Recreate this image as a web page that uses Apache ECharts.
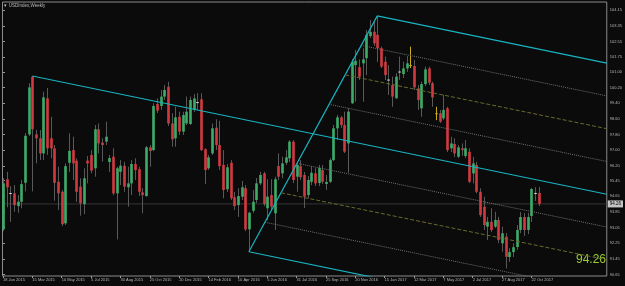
<!DOCTYPE html>
<html><head><meta charset="utf-8">
<script src="https://cdn.jsdelivr.net/npm/echarts@6/dist/echarts.min.js"></script>
<style>html,body{margin:0;padding:0;background:#0b0b0b;}#c{width:625px;height:286px;}</style>
</head><body><div id="c"></div>
<script>
// Weekly USDIndex, bar 0 = week of 18 Jan 2015
const opens = [92.96,95.52,94.82,94.80,94.15,94.37,95.34,97.81,100.76,97.81,97.61,96.84,99.65,97.61,97.10,95.39,94.88,93.27,96.36,97.01,
96.47,95.14,94.25,96.47,96.76,96.08,98.07,97.39,97.44,96.40,96.67,94.80,95.90,96.21,95.11,95.31,96.30,96.03,94.85,94.66,
97.15,97.01,99.36,99.26,99.74,100.24,98.37,97.61,98.71,97.95,98.37,98.34,99.06,99.45,99.60,97.05,96.08,96.84,98.15,97.27,
96.25,95.01,96.36,94.60,94.20,94.63,95.06,92.96,93.91,94.46,95.31,95.82,94.04,94.71,93.78,96.19,95.82,96.36,96.59,97.44,
95.65,96.19,95.74,94.71,95.39,95.82,95.33,95.99,95.28,95.39,96.50,98.12,98.68,98.29,97.35,99.40,101.35,101.24,101.44,101.70,
102.83,103.05,102.89,102.21,101.52,100.61,100.33,99.65,101.00,100.89,101.18,101.35,101.30,100.16,99.14,100.38,101.18,100.42,98.89,98.89,
98.63,99.14,97.10,97.32,96.67,97.10,96.71,96.92,95.82,96.25,94.88,94.12,93.10,93.35,93.10,93.44,92.25,92.59,91.55,91.80,
92.06,92.93,93.59,92.93,93.64,94.82,94.82];
const highs = [95.58,95.90,95.17,95.22,94.71,95.48,97.88,100.42,100.79,98.03,98.03,99.99,100.18,98.71,97.27,96.16,94.97,96.33,97.87,97.69,
96.59,95.57,96.08,96.71,97.01,98.29,98.37,97.61,98.46,96.76,97.10,96.16,96.50,96.41,96.16,96.50,96.59,96.16,95.06,97.22,
97.27,99.40,99.65,100.08,100.33,100.50,98.89,99.22,98.97,98.97,99.74,99.74,99.87,99.92,99.91,97.10,96.76,98.37,98.58,98.51,
97.01,96.30,96.50,94.87,95.06,95.43,95.22,93.86,94.97,95.58,95.90,95.90,95.52,95.52,95.65,96.84,96.67,97.01,97.52,97.52,
96.30,96.50,95.89,95.68,96.19,96.09,96.25,96.25,95.74,96.60,98.29,98.80,98.75,98.97,99.14,101.66,102.12,101.64,102.21,103.14,
103.65,103.56,103.86,102.29,101.78,101.35,100.76,100.94,101.78,101.52,101.81,102.29,101.61,100.33,100.50,101.27,101.27,100.50,99.22,99.06,
99.82,99.22,97.69,97.61,97.27,97.35,97.52,97.10,96.67,96.41,95.06,94.63,93.60,94.04,93.86,93.60,93.10,92.77,92.00,92.25,
93.18,93.85,93.80,93.80,95.07,95.12,95.12];
const lows = [92.87,94.09,93.35,93.86,93.81,94.04,94.90,97.73,94.90,96.33,96.50,96.50,96.76,96.59,94.42,93.95,93.13,93.18,95.90,95.48,
94.37,93.66,93.74,95.31,95.82,95.65,96.84,96.42,97.27,95.90,94.71,92.45,95.22,94.88,94.12,94.71,95.48,94.66,93.78,94.63,
96.16,96.96,98.90,99.06,99.57,98.24,97.18,97.18,97.78,97.78,98.29,98.29,98.95,99.06,96.96,95.28,95.99,96.76,97.01,95.99,
94.55,94.87,94.46,93.95,93.60,94.46,92.87,91.82,93.80,94.30,95.22,94.15,93.44,93.95,92.93,95.48,95.57,96.25,96.40,95.33,
94.88,95.48,94.05,94.56,95.22,95.17,95.17,95.28,94.97,95.33,96.45,97.52,98.14,96.86,95.85,99.36,99.48,100.59,99.48,100.84,
102.73,102.32,101.51,101.20,100.59,99.82,99.22,99.65,100.59,100.69,101.00,101.20,100.08,99.06,98.71,100.28,100.33,99.22,98.54,98.39,
98.54,96.91,96.91,96.65,96.60,96.71,96.60,95.33,95.31,94.80,93.59,92.93,92.42,92.82,93.03,92.26,91.82,90.97,91.30,91.55,
91.91,92.77,92.62,92.72,93.34,94.41,94.15];
const closes = [95.31,95.11,94.78,94.20,94.37,95.27,97.74,100.21,98.07,97.61,96.84,99.70,97.10,97.10,95.34,94.80,93.23,96.19,96.97,96.33,
94.88,94.29,95.57,96.33,95.96,98.07,97.35,97.27,97.69,96.60,94.80,96.08,96.21,95.14,95.31,96.30,95.99,94.88,94.71,97.15,
96.96,99.26,99.02,99.74,100.08,98.37,97.56,98.68,97.95,98.80,98.97,99.57,99.65,99.46,97.01,95.99,96.64,98.12,97.27,96.19,
94.97,96.13,94.55,94.15,94.66,95.11,92.96,93.81,94.37,95.31,95.74,94.25,94.63,94.12,95.52,95.65,96.33,96.64,97.44,95.48,
96.25,95.62,94.63,95.48,95.85,95.31,96.09,95.39,95.38,96.50,98.12,98.68,98.29,96.93,98.97,101.52,101.57,100.76,101.64,102.89,
103.05,102.46,102.21,101.27,100.84,100.57,99.74,100.76,101.02,101.18,101.44,101.35,100.21,99.57,100.38,101.13,100.45,99.70,98.89,98.46,
99.06,97.01,97.35,96.84,97.15,97.01,97.10,95.39,96.33,94.88,93.69,93.18,93.35,92.93,93.44,92.42,92.76,91.56,91.80,92.05,
92.93,93.59,92.93,93.59,95.02,94.80,94.26];

const dateTickLabels = ['18 Jan 2015','15 Mar 2015','10 May 2015','5 Jul 2015','30 Aug 2015','25 Oct 2015','20 Dec 2015',
'14 Feb 2016','10 Apr 2016','5 Jun 2016','31 Jul 2016','25 Sep 2016','20 Nov 2016','15 Jan 2017','12 Mar 2017',
'7 May 2017','2 Jul 2017','27 Aug 2017','22 Oct 2017'];
const barsPerDateTick = 8;
const priceTickLabels = ['104.15','103.35','102.55','101.75','101.00','100.20','99.40','98.60','97.80','97.00',
'96.20','95.45','94.65','93.85','93.05','92.25','91.45','90.65'];
// Andrews' pitchfork pivots: [bar of high, bar of high, bar of low]
const pitchforkBars = [8, 102, 67];
const dottedLevels = [0.125, 0.375, 0.625, 0.875];
const dashedLevels = [0.25, 0.75];
const titleText = '▼ USDIndex,Weekly';

const xMin = -0.136, xMax = 164.54, yMin = 90.58, yMax = 104.57;
const bull = '#3eaa68', bear = '#cf3a40', wick = '#595959';
const candles = closes.map((c, i) => [i, opens[i], c, lows[i], highs[i]]);
const dateTickVals = dateTickLabels.map((_, k) => k * barsPerDateTick);
const priceTickVals = priceTickLabels.map(Number);

const P1 = [pitchforkBars[0], highs[pitchforkBars[0]]];
const P2 = [pitchforkBars[1], highs[pitchforkBars[1]]];
const P3 = [pitchforkBars[2], lows[pitchforkBars[2]]];
const M = [(P2[0] + P3[0]) / 2, (P2[1] + P3[1]) / 2];
const slope = (M[1] - P1[1]) / (M[0] - P1[0]);
const ray = s => [s, [xMax, s[1] + slope * (xMax - s[0])]];
const onHandle = f => [P2[0] + f * (P3[0] - P2[0]), P2[1] + f * (P3[1] - P2[1])];
const cyan = '#18b4c2';
const lineSeries = (data, color, type, width) => ({
  type: 'line', data, symbol: 'none', silent: true, animation: false, clip: true, z: 5,
  lineStyle: { color, type, width }
});

const series = [];
const last = closes[closes.length - 1];
series.push({
  type: 'line', data: [[xMin, last], [xMax, last]], symbol: 'none', silent: true, animation: false, z: 1,
  lineStyle: { color: '#353535', width: 1 },
  endLabel: { show: true, formatter: () => last.toFixed(2), backgroundColor: '#c4c4c4', color: '#000',
    fontSize: 4.5, fontFamily: 'Liberation Sans', padding: [1, 2, 1, 2], distance: 1 }
});
series.push({
  type: 'custom', data: candles, clip: true, animation: false, z: 3,
  encode: { x: 0, y: [1, 2, 3, 4] },
  renderItem: function (params, api) {
    const i = api.value(0), o = api.value(1), c = api.value(2), l = api.value(3), h = api.value(4);
    const pO = api.coord([i, o]), pC = api.coord([i, c]), pL = api.coord([i, l]), pH = api.coord([i, h]);
    const w = api.size([1, 0])[0] * 0.72;
    const x = Math.round(pO[0]) + 0.5;
    let color = c > o ? bull : bear, wc = wick;
    if (Math.abs(c - o) < 0.005) { color = '#c8ad1a'; wc = '#c8ad1a'; }
    else if (Math.abs(c - o) < 0.05) { color = '#d8d8d8'; }
    const top = Math.min(pO[1], pC[1]), bot = Math.max(pO[1], pC[1]);
    return { type: 'group', children: [
      { type: 'line', shape: { x1: x, y1: pH[1], x2: x, y2: pL[1] }, style: { stroke: wc, lineWidth: 1 } },
      { type: 'rect', shape: { x: x - w / 2, y: top, width: w, height: Math.max(bot - top, 1) }, style: { fill: color } }
    ]};
  }
});
series.push(lineSeries([P3, P2], cyan, 'solid', 1.2));
series.push(lineSeries(ray(P1), cyan, 'solid', 1.2));
series.push(lineSeries(ray(P2), cyan, 'solid', 1.2));
series.push(lineSeries(ray(P3), cyan, 'solid', 1.2));
dottedLevels.forEach(f => series.push(lineSeries(ray(onHandle(f)), '#707070', 'dotted', 1)));
dashedLevels.forEach(f => series.push(lineSeries(ray(onHandle(f)), '#6a6a2c', 'dashed', 1)));

const chart = echarts.init(document.getElementById('c'), null, { renderer: 'canvas' });
chart.setOption({
  backgroundColor: '#0b0b0b',
  animation: false,
  grid: { left: 1, right: 18, top: 2, bottom: 10, show: true, borderColor: '#8c8c8c', borderWidth: 1 },
  xAxis: {
    type: 'value', min: xMin, max: xMax,
    axisLine: { show: false }, splitLine: { show: false },
    axisTick: { show: true, customValues: dateTickVals, length: 2, lineStyle: { color: '#9a9a9a' } },
    axisLabel: { customValues: dateTickVals, formatter: v => dateTickLabels[Math.round(v / barsPerDateTick)],
      color: '#b8b8b8', fontSize: 4, fontFamily: 'Liberation Sans', align: 'left', margin: 2 }
  },
  yAxis: {
    type: 'value', position: 'right', min: yMin, max: yMax,
    axisLine: { show: false }, splitLine: { show: false },
    axisTick: { show: true, customValues: priceTickVals, length: 2, lineStyle: { color: '#9a9a9a' } },
    axisLabel: { customValues: priceTickVals,
      formatter: v => { let b = 0; priceTickVals.forEach((t, k) => { if (Math.abs(t - v) < Math.abs(priceTickVals[b] - v)) b = k; }); return priceTickLabels[b]; },
      color: '#b8b8b8', fontSize: 4, fontFamily: 'Liberation Sans', margin: 3 }
  },
  graphic: [
    { type: 'text', x: 3, y: 3, style: { text: titleText, fill: '#bdbdbd', font: '4.5px "Liberation Sans"' } },
    { type: 'text', x: 606, y: 266, style: { text: last.toFixed(2), fill: '#9acd32',
      font: '12px "Liberation Sans Narrow", "Liberation Sans"', align: 'right', verticalAlign: 'bottom' } }
  ],
  series
});
</script>
</body></html>
